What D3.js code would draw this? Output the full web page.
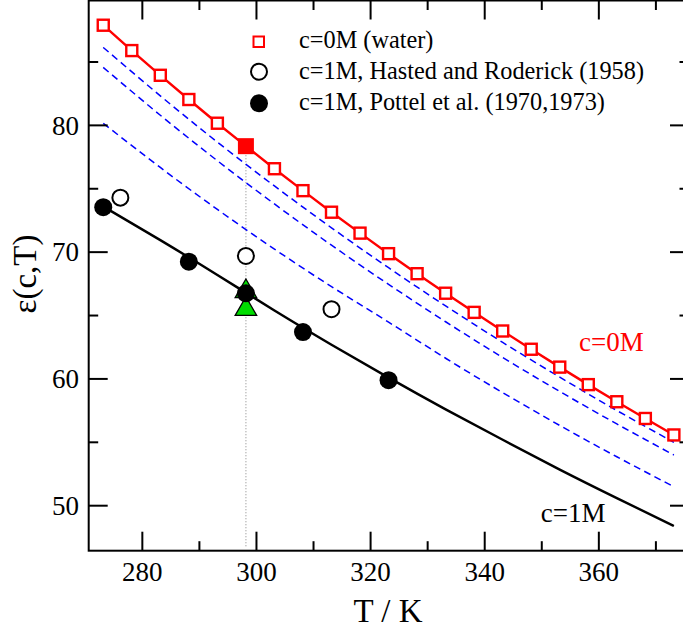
<!DOCTYPE html>
<html>
<head>
<meta charset="utf-8">
<script src="https://cdn.jsdelivr.net/npm/d3@7"></script>
<style>
  html, body { margin: 0; padding: 0; background: #fff; }
  svg { display: block; }
</style>
</head>
<body>
<svg id="chart" width="683" height="630" font-family="'Liberation Serif', Tinos, 'DejaVu Serif', serif"></svg>
<script>
// Temperatures (K) for the pure-water data
const waterT = [273.15, 278.15, 283.15, 288.15, 293.15, 298.15, 303.15, 308.15, 313.15,
  318.15, 323.15, 328.15, 333.15, 338.15, 343.15, 348.15, 353.15, 358.15, 363.15, 368.15, 373.15];
const waterEps = [87.90, 85.90, 83.95, 82.04, 80.17, 78.36, 76.58, 74.85, 73.15,
  71.50, 69.88, 68.30, 66.76, 65.25, 63.78, 62.34, 60.93, 59.55, 58.20, 56.88, 55.58];
const refT = 298.15;
const refEpsWater = 78.36;

// 1 M measurements
const hastedT = [276.15, 298.15, 313.15];
const hastedEps = [74.3, 69.7, 65.5];
const pottelT = [273.15, 288.15, 298.15, 308.15, 323.15];
const pottelEps = [73.55, 69.25, 66.75, 63.7, 59.9];

// Simulation values at 298.15 K
const simT = [298.15, 298.15];
const simEps = [66.9, 65.5];

// Model curves sampled on a 10 K grid
const curveT = [273.15, 283.15, 293.15, 303.15, 313.15, 323.15, 333.15, 343.15, 353.15, 363.15, 373.15];
const eps1M = [73.6, 70.95, 68.2, 65.4, 62.7, 60.1, 57.6, 55.2, 52.85, 50.6, 48.4];
const epsDashA = [86.15, 82.33, 78.68, 75.22, 71.92, 68.77, 65.76, 62.88, 60.14, 57.51, 55.0];
const epsDashB = [84.57, 80.80, 77.21, 73.80, 70.55, 67.46, 64.51, 61.69, 59.01, 56.45, 54.0];
const epsDashC = [80.16, 76.68, 73.37, 70.24, 67.28, 64.48, 61.63, 58.92, 56.33, 53.86, 51.5];

// Axis ticks
const xMajor = [280, 300, 320, 340, 360];
const xMinor = [290, 310, 330, 350, 370];
const yMajor = [50, 60, 70, 80];
const yMinor = [55, 65, 75, 85];

(function draw() {
  const svg = d3.select("#chart");
  const pL = 88.7, pR = 689, pT = 0.5, pB = 550.7;

  const x = d3.scaleLinear().domain([270.6, 375.8]).range([pL, pR]);
  const y = d3.scaleLinear().domain([46.45, 89.85]).range([pB, pT]);

  const zip = (a, b) => a.map((v, i) => [v, b[i]]);

  const plot = svg.append("g");

  // reference temperature marker
  plot.append("line")
    .attr("x1", x(refT)).attr("x2", x(refT))
    .attr("y1", y(refEpsWater)).attr("y2", y(46.7))
    .attr("stroke", "#999").attr("stroke-width", 1.2)
    .attr("stroke-dasharray", "1.2,1.8");

  const lineGen = d3.line().x(d => x(d[0])).y(d => y(d[1]));
  const smooth = d3.line().x(d => x(d[0])).y(d => y(d[1])).curve(d3.curveNatural);

  // intermediate concentrations
  [epsDashA, epsDashB, epsDashC].forEach(arr => {
    plot.append("path")
      .attr("d", smooth(zip(curveT, arr)))
      .attr("fill", "none").attr("stroke", "#0000ff")
      .attr("stroke-width", 1.5).attr("stroke-dasharray", "7,4.5");
  });

  // c = 1 M curve
  plot.append("path")
    .attr("d", smooth(zip(curveT, eps1M)))
    .attr("fill", "none").attr("stroke", "#000").attr("stroke-width", 2.4);

  // water line
  plot.append("path")
    .attr("d", lineGen(zip(waterT, waterEps)))
    .attr("fill", "none").attr("stroke", "#ff0000").attr("stroke-width", 2.4);

  // water squares
  const sq = 11;
  plot.selectAll("rect.water")
    .data(zip(waterT, waterEps).filter(d => d[0] !== refT))
    .enter().append("rect")
    .attr("x", d => x(d[0]) - sq / 2).attr("y", d => y(d[1]) - sq / 2)
    .attr("width", sq).attr("height", sq)
    .attr("fill", "#fff").attr("stroke", "#ff0000").attr("stroke-width", 2.4);

  plot.append("rect")
    .attr("x", x(refT) - 8).attr("y", y(refEpsWater) - 8)
    .attr("width", 16).attr("height", 16)
    .attr("fill", "#ff0000");

  // Hasted and Roderick
  plot.selectAll("circle.hasted")
    .data(zip(hastedT, hastedEps)).enter().append("circle")
    .attr("cx", d => x(d[0])).attr("cy", d => y(d[1])).attr("r", 8)
    .attr("fill", "#fff").attr("stroke", "#000").attr("stroke-width", 2);

  // simulation triangles
  const tri = d3.symbol().type(d3.symbolTriangle).size(200);
  plot.selectAll("path.sim")
    .data(zip(simT, simEps)).enter().append("path")
    .attr("d", tri)
    .attr("transform", d => `translate(${x(d[0])},${y(d[1])})`)
    .attr("fill", "#00dd00").attr("stroke", "#000").attr("stroke-width", 1.3);

  // Pottel et al.
  plot.selectAll("circle.pottel")
    .data(zip(pottelT, pottelEps)).enter().append("circle")
    .attr("cx", d => x(d[0])).attr("cy", d => y(d[1])).attr("r", 9)
    .attr("fill", "#000");

  // frame and ticks
  const axes = svg.append("g").attr("stroke", "#000").attr("stroke-width", 2);
  axes.append("rect").attr("x", pL).attr("y", pT)
    .attr("width", pR - pL).attr("height", pB - pT).attr("fill", "none");

  xMajor.forEach(v => {
    axes.append("line").attr("x1", x(v)).attr("x2", x(v)).attr("y1", pB).attr("y2", pB - 19);
    axes.append("line").attr("x1", x(v)).attr("x2", x(v)).attr("y1", pT).attr("y2", pT + 19);
  });
  xMinor.forEach(v => {
    axes.append("line").attr("x1", x(v)).attr("x2", x(v)).attr("y1", pB).attr("y2", pB - 9.5);
    axes.append("line").attr("x1", x(v)).attr("x2", x(v)).attr("y1", pT).attr("y2", pT + 9.5);
  });
  yMajor.forEach(v => {
    axes.append("line").attr("x1", pL).attr("x2", pL + 19).attr("y1", y(v)).attr("y2", y(v));
    axes.append("line").attr("x1", pR).attr("x2", pR - 19).attr("y1", y(v)).attr("y2", y(v));
  });
  yMinor.forEach(v => {
    axes.append("line").attr("x1", pL).attr("x2", pL + 9.5).attr("y1", y(v)).attr("y2", y(v));
    axes.append("line").attr("x1", pR).attr("x2", pR - 9.5).attr("y1", y(v)).attr("y2", y(v));
  });

  // tick labels
  svg.append("g").selectAll("text").data(xMajor).enter().append("text")
    .attr("x", d => x(d)).attr("y", 581)
    .attr("text-anchor", "middle").attr("font-size", 27).text(d => d);
  svg.append("g").selectAll("text").data(yMajor).enter().append("text")
    .attr("x", 79).attr("y", d => y(d)).attr("dy", "0.34em")
    .attr("text-anchor", "end").attr("font-size", 27).text(d => d);

  // axis titles
  svg.append("text").attr("x", 388).attr("y", 621.5)
    .attr("text-anchor", "middle").attr("font-size", 33).text("T / K");
  svg.append("text")
    .attr("transform", "translate(36,274) rotate(-90)")
    .attr("text-anchor", "middle").attr("font-size", 33).text("ε(c,T)");

  // curve labels
  svg.append("text").attr("x", 579).attr("y", 350.7)
    .attr("font-size", 27).attr("fill", "#ff0000").text("c=0M");
  svg.append("text").attr("x", 540.7).attr("y", 521.7)
    .attr("font-size", 27).text("c=1M");

  // legend
  const lg = svg.append("g");
  lg.append("rect").attr("x", 253.5).attr("y", 36.5).attr("width", 10.5).attr("height", 10.5)
    .attr("fill", "#fff").attr("stroke", "#ff0000").attr("stroke-width", 2);
  lg.append("circle").attr("cx", 259).attr("cy", 71.7).attr("r", 8)
    .attr("fill", "#fff").attr("stroke", "#000").attr("stroke-width", 2);
  lg.append("circle").attr("cx", 259).attr("cy", 103.3).attr("r", 9).attr("fill", "#000");
  const legendText = ["c=0M (water)", "c=1M, Hasted and Roderick (1958)", "c=1M, Pottel et al. (1970,1973)"];
  lg.selectAll("text").data(legendText).enter().append("text")
    .attr("x", 299).attr("y", (d, i) => 48 + i * 31)
    .attr("font-size", 24.3).text(d => d);
})();
</script>
</body>
</html>
